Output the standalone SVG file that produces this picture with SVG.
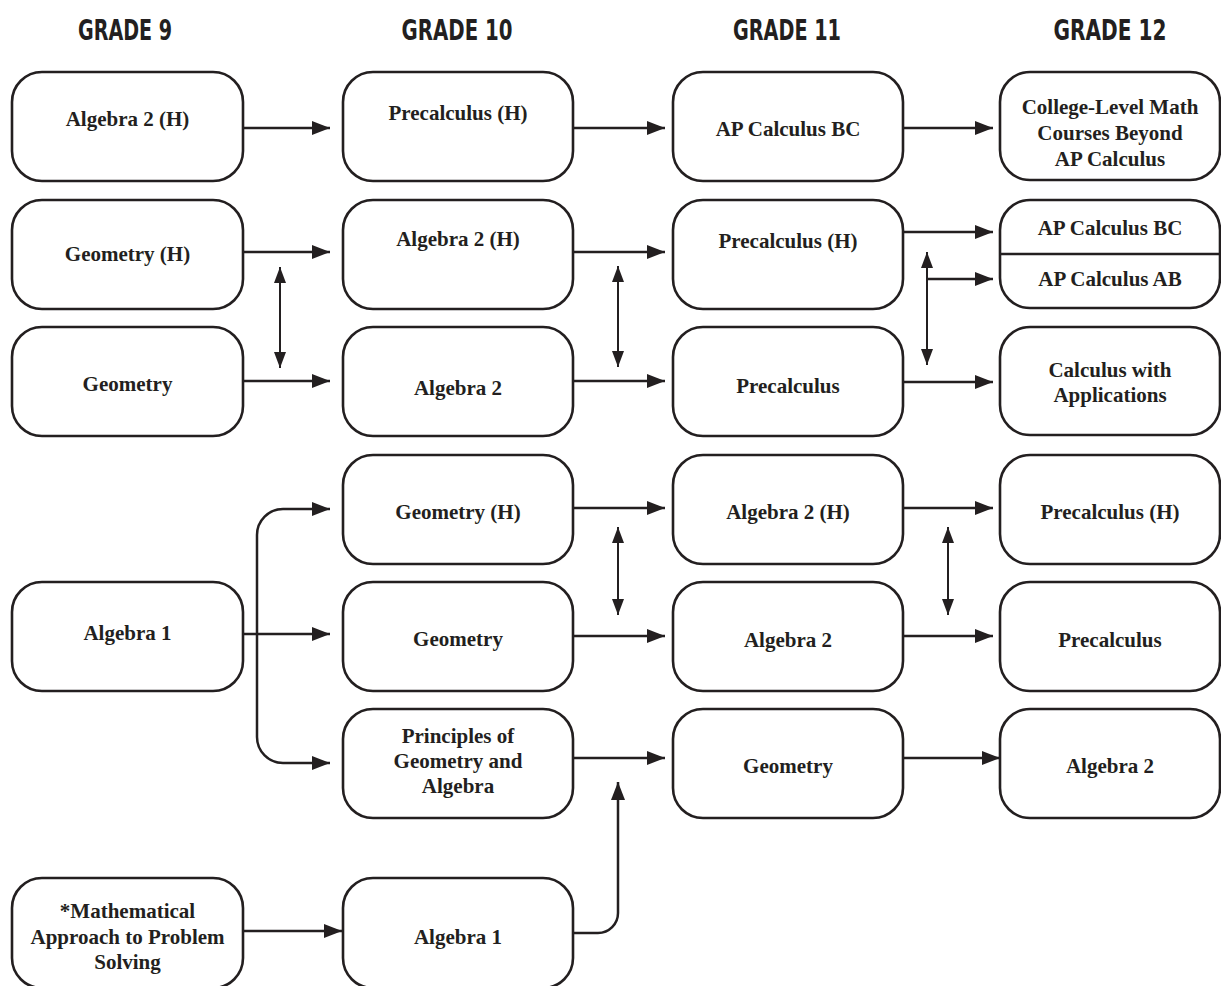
<svg xmlns="http://www.w3.org/2000/svg" width="1221" height="986" viewBox="0 0 1221 986">
<style>
.box{fill:#fff;stroke:#231f20;stroke-width:2.6}
.t{font-family:"Liberation Serif","Times New Roman",serif;font-weight:bold;font-size:21px;fill:#231f20;text-anchor:middle}
.h{font-family:"Liberation Sans Narrow","DejaVu Sans Condensed","Liberation Sans",sans-serif;font-weight:bold;font-size:29px;fill:#231f20;text-anchor:middle}
.c{fill:none;stroke:#231f20;stroke-width:2.5}
.a{marker-end:url(#ah)}
.d{fill:none;stroke:#231f20;stroke-width:2;marker-start:url(#dh);marker-end:url(#dh)}
</style>
<defs>
<marker id="ah" viewBox="0 0 18 14" refX="18" refY="7" markerWidth="18" markerHeight="14" markerUnits="userSpaceOnUse" orient="auto">
<path d="M0,0 L18,7 L0,14 Z" fill="#231f20"/>
</marker>
<marker id="dh" viewBox="0 0 16 12" refX="16" refY="6" markerWidth="16" markerHeight="12" markerUnits="userSpaceOnUse" orient="auto-start-reverse">
<path d="M0,0 L16,6 L0,12 Z" fill="#231f20"/>
</marker>
</defs>
<g id="headers">
<text class="h" x="125" y="40" textLength="94" lengthAdjust="spacingAndGlyphs">GRADE 9</text>
<text class="h" x="457" y="40" textLength="111" lengthAdjust="spacingAndGlyphs">GRADE 10</text>
<text class="h" x="787" y="40" textLength="108" lengthAdjust="spacingAndGlyphs">GRADE 11</text>
<text class="h" x="1110" y="40" textLength="113" lengthAdjust="spacingAndGlyphs">GRADE 12</text>
</g>
<g id="connectors">
<path class="c a" d="M243,128 H330"/>
<path class="c a" d="M573,128 H665"/>
<path class="c a" d="M903,128 H993"/>
<path class="c a" d="M243,252 H330"/>
<path class="c a" d="M573,252 H665"/>
<path class="c a" d="M903,232 H993"/>
<path class="c a" d="M927,279 H993"/>
<path class="c a" d="M243,381 H330"/>
<path class="c a" d="M573,381 H665"/>
<path class="c a" d="M903,382 H993"/>
<path class="d" d="M280,267 V368"/>
<path class="d" d="M618,266 V367"/>
<path class="d" d="M927,252 V365"/>
<path class="c a" d="M243,634 H330"/>
<path class="c a" d="M283,509 H330"/>
<path class="c a" d="M283,763 H330"/>
<path class="c" d="M283,509 A26,26 0 0 0 257,535 V737 A26,26 0 0 0 283,763"/>
<path class="c a" d="M573,508 H665"/>
<path class="c a" d="M573,636 H665"/>
<path class="c a" d="M903,508 H993"/>
<path class="c a" d="M903,636 H993"/>
<path class="d" d="M618,527 V615"/>
<path class="d" d="M948,527 V615"/>
<path class="c a" d="M573,758 H665"/>
<path class="c a" d="M903,758 H1000"/>
<path class="c a" d="M243,931 H342"/>
<path class="c a" d="M573,933 H598 A20,20 0 0 0 618,913 V782"/>
</g>
<g id="n-g9-alg2h"><rect class="box" x="12" y="72" width="231" height="109" rx="30"/><text class="t" x="127.5" y="126">Algebra 2 (H)</text></g>
<g id="n-g10-precalch"><rect class="box" x="343" y="72" width="230" height="109" rx="30"/><text class="t" x="458" y="120">Precalculus (H)</text></g>
<g id="n-g11-apbc"><rect class="box" x="673" y="72" width="230" height="109" rx="30"/><text class="t" x="788" y="136">AP Calculus BC</text></g>
<g id="n-g12-college"><rect class="box" x="1000" y="72" width="220" height="108" rx="30"/><text class="t" x="1110" y="114">College-Level Math</text><text class="t" x="1110" y="140">Courses Beyond</text><text class="t" x="1110" y="166">AP Calculus</text></g>
<g id="n-g9-geomh"><rect class="box" x="12" y="200" width="231" height="109" rx="30"/><text class="t" x="127.5" y="261">Geometry (H)</text></g>
<g id="n-g10-alg2h"><rect class="box" x="343" y="200" width="230" height="109" rx="30"/><text class="t" x="458" y="246">Algebra 2 (H)</text></g>
<g id="n-g11-precalch"><rect class="box" x="673" y="200" width="230" height="109" rx="30"/><text class="t" x="788" y="248">Precalculus (H)</text></g>
<g id="n-g12-apcalc"><rect class="box" x="1000" y="200" width="220" height="108" rx="30"/><line x1="1000" y1="254" x2="1220" y2="254" stroke="#231f20" stroke-width="2.6"/><text class="t" x="1110" y="235">AP Calculus BC</text><text class="t" x="1110" y="286">AP Calculus AB</text></g>
<g id="n-g9-geom"><rect class="box" x="12" y="327" width="231" height="109" rx="30"/><text class="t" x="127.5" y="391">Geometry</text></g>
<g id="n-g10-alg2"><rect class="box" x="343" y="327" width="230" height="109" rx="30"/><text class="t" x="458" y="395">Algebra 2</text></g>
<g id="n-g11-precalc"><rect class="box" x="673" y="327" width="230" height="109" rx="30"/><text class="t" x="788" y="393">Precalculus</text></g>
<g id="n-g12-calcapp"><rect class="box" x="1000" y="327" width="220" height="108" rx="30"/><text class="t" x="1110" y="377">Calculus with</text><text class="t" x="1110" y="402">Applications</text></g>
<g id="n-g10-geomh"><rect class="box" x="343" y="455" width="230" height="109" rx="30"/><text class="t" x="458" y="519">Geometry (H)</text></g>
<g id="n-g11-alg2h"><rect class="box" x="673" y="455" width="230" height="109" rx="30"/><text class="t" x="788" y="519">Algebra 2 (H)</text></g>
<g id="n-g12-precalch"><rect class="box" x="1000" y="455" width="220" height="109" rx="30"/><text class="t" x="1110" y="519">Precalculus (H)</text></g>
<g id="n-g9-alg1"><rect class="box" x="12" y="582" width="231" height="109" rx="30"/><text class="t" x="127.5" y="640">Algebra 1</text></g>
<g id="n-g10-geom"><rect class="box" x="343" y="582" width="230" height="109" rx="30"/><text class="t" x="458" y="646">Geometry</text></g>
<g id="n-g11-alg2"><rect class="box" x="673" y="582" width="230" height="109" rx="30"/><text class="t" x="788" y="647">Algebra 2</text></g>
<g id="n-g12-precalc"><rect class="box" x="1000" y="582" width="220" height="109" rx="30"/><text class="t" x="1110" y="647">Precalculus</text></g>
<g id="n-g10-principles"><rect class="box" x="343" y="709" width="230" height="109" rx="30"/><text class="t" x="458" y="743">Principles of</text><text class="t" x="458" y="768">Geometry and</text><text class="t" x="458" y="793">Algebra</text></g>
<g id="n-g11-geom"><rect class="box" x="673" y="709" width="230" height="109" rx="30"/><text class="t" x="788" y="773">Geometry</text></g>
<g id="n-g12-alg2"><rect class="box" x="1000" y="709" width="220" height="109" rx="30"/><text class="t" x="1110" y="773">Algebra 2</text></g>
<g id="n-g9-mapps"><rect class="box" x="12" y="878" width="231" height="110" rx="30"/><text class="t" x="127.5" y="918">*Mathematical</text><text class="t" x="127.5" y="944">Approach to Problem</text><text class="t" x="127.5" y="969">Solving</text></g>
<g id="n-g10-alg1"><rect class="box" x="343" y="878" width="230" height="110" rx="30"/><text class="t" x="458" y="944">Algebra 1</text></g>
</svg>
